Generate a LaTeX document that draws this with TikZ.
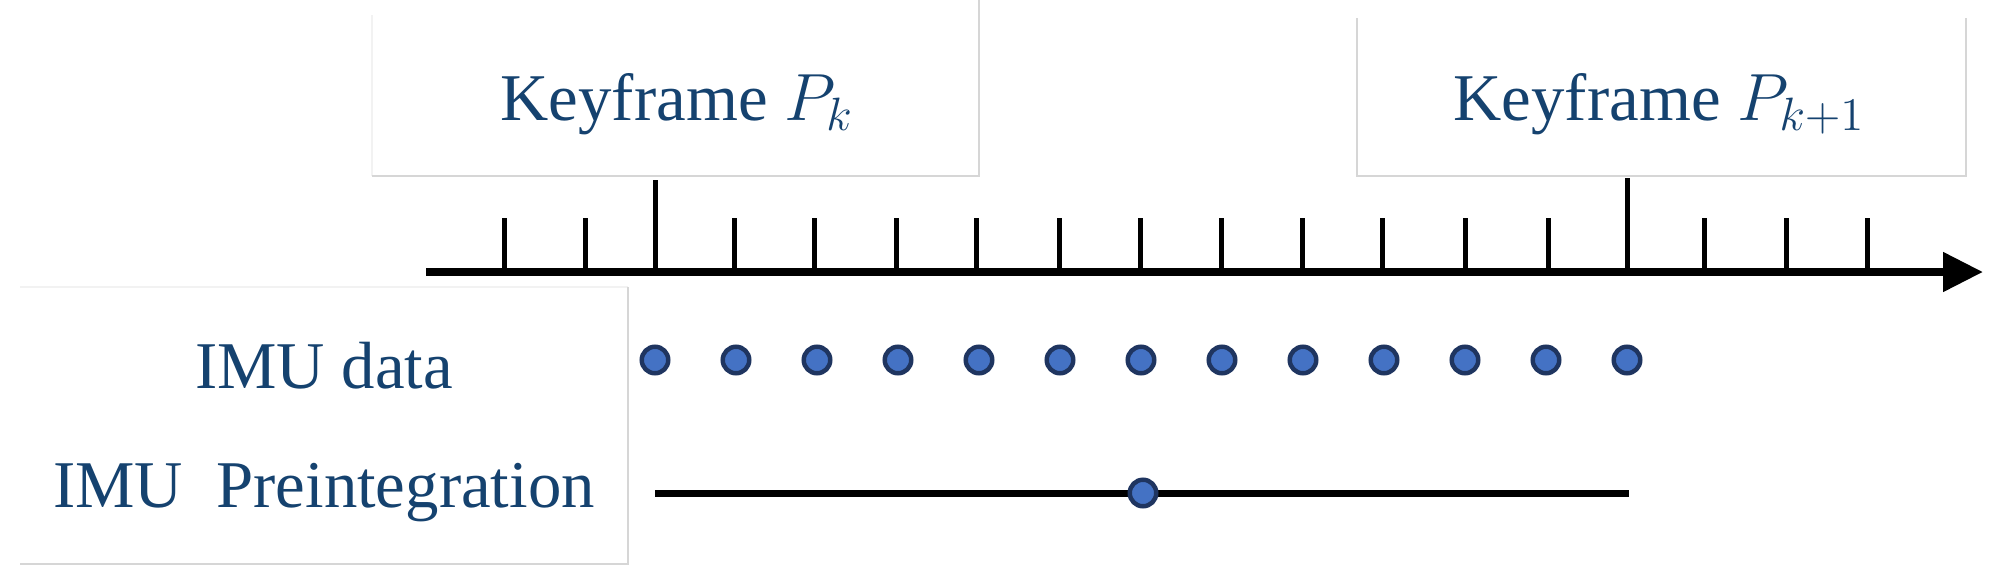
\documentclass[tikz,border=0pt]{standalone}
\usepackage{fix-cm}
\usepackage{fontspec}
\setmainfont{Liberation Serif}
\usetikzlibrary{positioning,arrows.meta}
\definecolor{txtblue}{HTML}{15426F}
\definecolor{dotfill}{HTML}{4472C4}
\definecolor{dotline}{HTML}{1F3560}
\definecolor{boxgray}{HTML}{D6D6D6}
\definecolor{boxfaint}{HTML}{F2F2F2}

\begin{document}
\begin{tikzpicture}[x=0.1mm, y=-0.1mm, node distance=0.81cm, on grid,
  txt/.style={text=txtblue, font=\fontsize{19}{22}\selectfont, inner sep=0pt},
  frame/.style={draw=boxgray, line width=0.2mm},
  faint/.style={draw=boxfaint, line width=0.2mm},
  imu/.style={circle, draw=dotline, fill=dotfill, line width=0.45mm, minimum size=2.65mm, inner sep=0pt},
  tick/.style={line width=0.5mm},
  axis/.style={line width=0.8mm, -{Triangle[length=4mm, width=3.8mm]}}]

\useasboundingbox (0,0) rectangle (2001,585);

% text boxes
\draw[faint] (372,176) -- (372,15);
\draw[frame] (372,176) -- (979,176) -- (979,0);
\draw[frame] (1357,18) -- (1357,176) -- (1966,176) -- (1966,18);
\draw[faint] (20,287) -- (628,287);
\draw[frame] (628,287) -- (628,564) -- (20,564);

\node[txt, anchor=base west] (kf_k) at (500,120) {Keyframe $P_k$};
\node[txt, anchor=base west] (kf_k1) at (1453,120) {Keyframe $P_{k+1}$};
\node[txt, anchor=base] (imu_data) at (324,388) {IMU data};
\node[txt, anchor=base] (imu_pre) at (324,507) {IMU\ \ Preintegration};

% time axis
\coordinate (ax_s) at (426,272);
\coordinate (ax_e) at (1983,272);
\draw[axis] (ax_s) -- (ax_e);

\draw[tick] (504,218) -- (504,272) (585,218) -- (585,272)
  (655,180) -- (655,272) (734,218) -- (734,272) (814,218) -- (814,272)
  (896,218) -- (896,272) (976,218) -- (976,272) (1059,218) -- (1059,272)
  (1140,218) -- (1140,272) (1221,218) -- (1221,272) (1302,218) -- (1302,272)
  (1382,218) -- (1382,272) (1465,218) -- (1465,272) (1548,218) -- (1548,272)
  (1627,178) -- (1627,272) (1704,218) -- (1704,272) (1786,218) -- (1786,272)
  (1867,218) -- (1867,272);

% imu samples
\node[imu] (d_1) at (655,360) {};
\node[imu, right of = d_1] (d_2) {};
\node[imu, right of = d_2] (d_3) {};
\node[imu, right of = d_3] (d_4) {};
\node[imu, right of = d_4] (d_5) {};
\node[imu, right of = d_5] (d_6) {};
\node[imu, right of = d_6] (d_7) {};
\node[imu, right of = d_7] (d_8) {};
\node[imu, right of = d_8] (d_9) {};
\node[imu, right of = d_9] (d_10) {};
\node[imu, right of = d_10] (d_11) {};
\node[imu, right of = d_11] (d_12) {};
\node[imu, right of = d_12] (d_13) {};

% preintegration
\coordinate (p_s) at (655,493);
\coordinate (p_e) at (1629,493);
\draw[line width=0.7mm] (p_s) -- (p_e);
\node[imu] (p_m) at (1143,493) {};

\end{tikzpicture}
\end{document}
